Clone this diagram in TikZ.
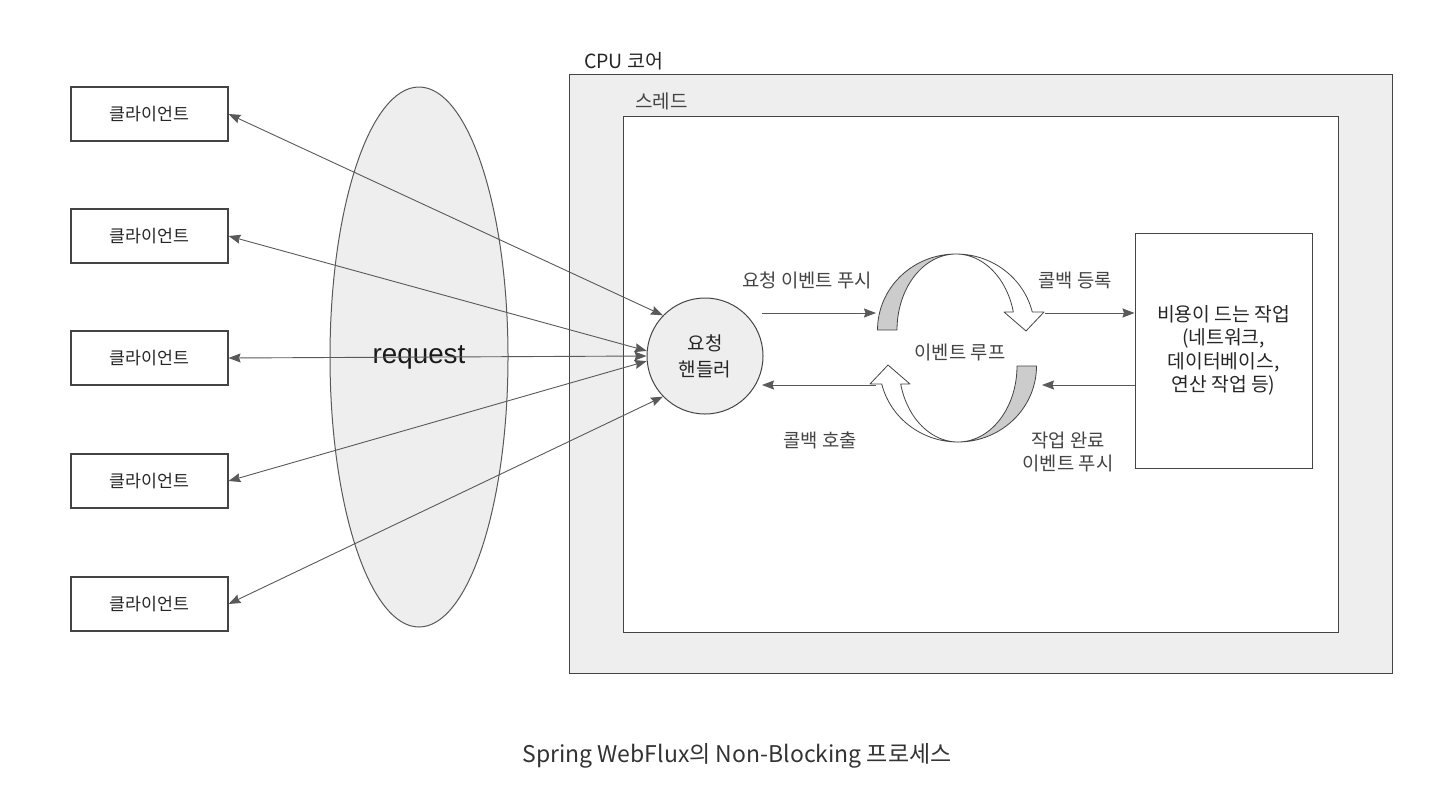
\documentclass[tikz,border=0pt]{standalone}
\usepackage{fontspec}
\setmainfont{Noto Sans CJK KR}
\newfontfamily\arialf{Liberation Sans}
\usetikzlibrary{arrows.meta,shapes.geometric}
\definecolor{lightfill}{HTML}{EEEEEE}
\definecolor{bandgray}{HTML}{CCCCCC}
\definecolor{linegray}{HTML}{595959}
\definecolor{edgegray}{HTML}{444444}
\definecolor{textgray}{HTML}{444444}
\definecolor{captext}{HTML}{333333}
\tikzset{
  client/.style={draw=edgegray, line width=1.1pt, fill=white, minimum width=157pt, minimum height=54pt, inner sep=0pt, font=\fontsize{17.3}{20}\selectfont, text=black!85},
  conn/.style={draw=linegray, line width=0.9pt, {Stealth[length=12pt,width=9pt,inset=1.5pt]}-{Stealth[length=12pt,width=9pt,inset=1.5pt]}},
  oneway/.style={draw=linegray, line width=0.9pt, -{Stealth[length=12pt,width=9pt,inset=1.5pt]}},
  lbl/.style={font=\fontsize{18.8}{23}\selectfont, text=textgray, align=center, inner sep=0pt},
  loopline/.style={draw=edgegray, line width=0.8pt, line join=round},
}
\begin{document}
\begin{tikzpicture}[x=1pt,y=-1pt]
\useasboundingbox (0,0) rectangle (1431,790);
% CPU core and thread boxes
\node[draw=edgegray, line width=1pt, fill=lightfill, minimum width=823pt, minimum height=599pt, inner sep=0pt] (cpu) at (980.5,373.5) {};
\node[anchor=base west, font=\fontsize{19.5}{22}\selectfont, text=black!85, inner sep=0pt] (cpulbl) at (584,68) {CPU 코어};
\node[draw=edgegray, line width=1pt, fill=white, minimum width=715pt, minimum height=516pt, inner sep=0pt] (thread) at (980.5,374) {};
\node[anchor=base west, font=\fontsize{19}{22}\selectfont, text=textgray, inner sep=0pt] (threadlbl) at (635,108) {스레드};
% ellipse
\node[ellipse, draw=linegray, line width=1pt, fill=lightfill, minimum width=178pt, minimum height=540pt, inner sep=0pt] (req) at (419,357) {};
\node[font=\arialf\fontsize{27.8}{30}\selectfont, text=black!90, inner sep=0pt] (reqlbl) at (419,357) {request};
% clients
\node[client] (c1) at (149.5,114) {클라이언트};
\node[client] (c2) at (149.5,236) {클라이언트};
\node[client] (c3) at (149.5,358) {클라이언트};
\node[client] (c4) at (149.5,481) {클라이언트};
\node[client] (c5) at (149.5,604) {클라이언트};
% handler
\node[circle, draw=edgegray, line width=1pt, fill=lightfill, minimum size=116pt, inner sep=0pt, align=center, font=\fontsize{19}{26}\selectfont, text=black!85] (h) at (705,356) {요청\\핸들러};
% work box
\node[draw=edgegray, line width=1pt, fill=white, minimum width=177pt, minimum height=235pt, inner sep=0pt, align=center, font=\fontsize{19.3}{23.5}\selectfont, text=black!85] (work) at (1223.5,350.5) {비용이 드는 작업\\(네트워크,\\데이터베이스,\\연산 작업 등)};
% connectors client <-> handler
\draw[conn] (c1.east) -- (h.136);
\draw[conn] (c2.east) -- (h.175);
\draw[conn] (c3.east) -- (h.180);
\draw[conn] (c4.east) -- (h.185);
\draw[conn] (c5.east) -- (h.224);
% event loop: top arrow
\fill[white] plot[variable=\t, domain=90:13.7, samples=40] ({956+78.5*cos(\t)},{330-76*sin(\t)}) -- (1044,312) -- (1026,331) -- (1004,312) -- plot[variable=\t, domain=13.7:90, samples=40] ({956+59*cos(\t)},{330-76*sin(\t)}) -- cycle;
\filldraw[fill=bandgray, loopline] plot[variable=\t, domain=180:90, samples=40] ({956+78.5*cos(\t)},{330-76*sin(\t)}) -- plot[variable=\t, domain=90:180, samples=40] ({956+59*cos(\t)},{330-76*sin(\t)}) -- cycle;
\draw[loopline] plot[variable=\t, domain=90:13.7, samples=40] ({956+78.5*cos(\t)},{330-76*sin(\t)}) -- (1044,312) -- (1026,331) -- (1004,312) -- plot[variable=\t, domain=13.7:90, samples=40] ({956+59*cos(\t)},{330-76*sin(\t)});
% event loop: bottom arrow (rotated copy)
\begin{scope}[rotate around={180:(957,348)}]
\fill[white] plot[variable=\t, domain=90:13.7, samples=40] ({956+78.5*cos(\t)},{330-76*sin(\t)}) -- (1044,312) -- (1026,331) -- (1004,312) -- plot[variable=\t, domain=13.7:90, samples=40] ({956+59*cos(\t)},{330-76*sin(\t)}) -- cycle;
\filldraw[fill=bandgray, loopline] plot[variable=\t, domain=180:90, samples=40] ({956+78.5*cos(\t)},{330-76*sin(\t)}) -- plot[variable=\t, domain=90:180, samples=40] ({956+59*cos(\t)},{330-76*sin(\t)}) -- cycle;
\draw[loopline] plot[variable=\t, domain=90:13.7, samples=40] ({956+78.5*cos(\t)},{330-76*sin(\t)}) -- (1044,312) -- (1026,331) -- (1004,312) -- plot[variable=\t, domain=13.7:90, samples=40] ({956+59*cos(\t)},{330-76*sin(\t)});
\end{scope}
\node[lbl] (looplbl) at (960,352) {이벤트 루프};
% horizontal arrows
\coordinate (p1s) at (762,313);
\coordinate (p1e) at (876,313);
\draw[oneway] (p1s) -- (p1e);
\coordinate (p2s) at (1045,313);
\draw[oneway] (p2s) -- (p2s -| work.west);
\coordinate (p3e) at (1042,385);
\draw[oneway] (p3e -| work.west) -- (p3e);
\coordinate (p4s) at (876,385);
\coordinate (p4e) at (762,385);
\draw[oneway] (p4s) -- (p4e);
% labels
\node[lbl] (l1) at (807,280) {요청 이벤트 푸시};
\node[lbl] (l2) at (1075,280) {콜백 등록};
\node[lbl] (l3) at (820,440) {콜백 호출};
\node[lbl] (l4) at (1068,452) {작업 완료\\이벤트 푸시};
% caption
\node[font=\fontsize{23}{26}\selectfont, text=captext, inner sep=0pt] (cap) at (737,756) {Spring WebFlux의 Non-Blocking 프로세스};
\end{tikzpicture}
\end{document}
